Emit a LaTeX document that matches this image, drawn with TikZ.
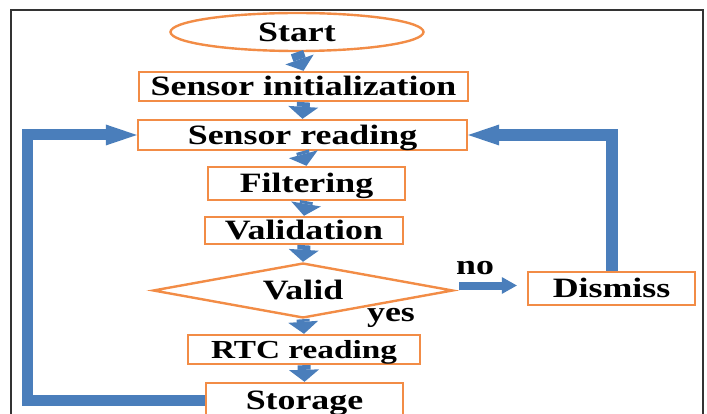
\documentclass[tikz,border=0pt]{standalone}
\usepackage{fontspec}
\setmainfont{Liberation Serif}[FakeStretch=1.28]
\usetikzlibrary{shapes.geometric,arrows.meta}
\definecolor{borange}{HTML}{F28C46}
\definecolor{bblue}{HTML}{4A7EBB}
\definecolor{bframe}{HTML}{333333}
\begin{document}
\begin{tikzpicture}[x=1pt,y=-1pt,
  lbl/.style={font=\fontsize{28}{30}\selectfont\bfseries, text height=18.5pt, text depth=0pt, inner sep=0pt, align=center},
  box/.style={lbl, draw=borange, line width=2.4pt, rectangle},
  varrow/.style={draw=bblue, line width=13pt, -{Triangle[length=12pt,width=30pt,line width=0pt]}},
  looparrow/.style={draw=bblue, line width=11pt, line join=miter, -{Triangle[length=31pt,width=21pt,line width=0pt]}},
  noarrow/.style={draw=bblue, line width=8pt, -{Triangle[length=15pt,width=17pt,line width=0pt]}},
  tag/.style={font=\fontsize{28}{30}\selectfont\bfseries, inner sep=0pt}
]
\useasboundingbox (0,0) rectangle (707,414);
% frame
\draw[bframe, line width=1.2pt] (11,420) -- (11,10) -- (703,10) -- (703,420);

% nodes
\node[lbl, ellipse, draw=borange, line width=2.4pt, minimum width=253pt, minimum height=38pt] (start) at (297,32) {Start};
\node[box, minimum width=329pt, minimum height=29pt] (si) at (303.5,86.5) {Sensor initialization};
\node[box, minimum width=329pt, minimum height=30pt] (sr) at (302.5,135) {Sensor reading};
\node[box, minimum width=197pt, minimum height=33pt] (fi) at (306.5,183.5) {Filtering};
\node[box, minimum width=198pt, minimum height=27pt] (va) at (304,230.5) {Validation};
\node[lbl, diamond, aspect=5.45, draw=borange, line width=2.4pt, minimum width=300pt, minimum height=55pt] (dia) at (303,290.5) {Valid};
\node[box, minimum width=232pt, minimum height=29pt, font=\fontsize{26}{28}\selectfont\bfseries] (rtc) at (304,349.5) {RTC reading};
\node[box, minimum width=197pt, minimum height=34pt] (st) at (304.5,400) {Storage};
\node[box, minimum width=167pt, minimum height=33pt] (dis) at (611.5,288.5) {Dismiss};

\node[tag] (no) at (475,268) {no};
\node[tag] (yes) at (391,318) {yes};

% vertical arrows
\draw[varrow] (start.south) -- (si.north);
\draw[varrow] (si.south) -- (sr.north);
\draw[varrow] (sr.south) -- (fi.north);
\draw[varrow] (fi.south) -- (va.north);
\draw[varrow] (va.south) -- (dia.north);
\draw[varrow] (dia.south) -- (rtc.north);
\draw[varrow] (rtc.south) -- (st.north);

% no arrow
\draw[noarrow, shorten <=5pt, shorten >=10pt] ([yshift=5pt]dia.east) -- ([yshift=5pt]dia.east -| dis.west);

% loops
\coordinate (lx) at (27.5,0);
\draw[looparrow] (st.west) -- (st.west -| lx) |- (sr.west);
\draw[looparrow, line width=12pt] (dis.north) |- (sr.east);
\end{tikzpicture}
\end{document}
